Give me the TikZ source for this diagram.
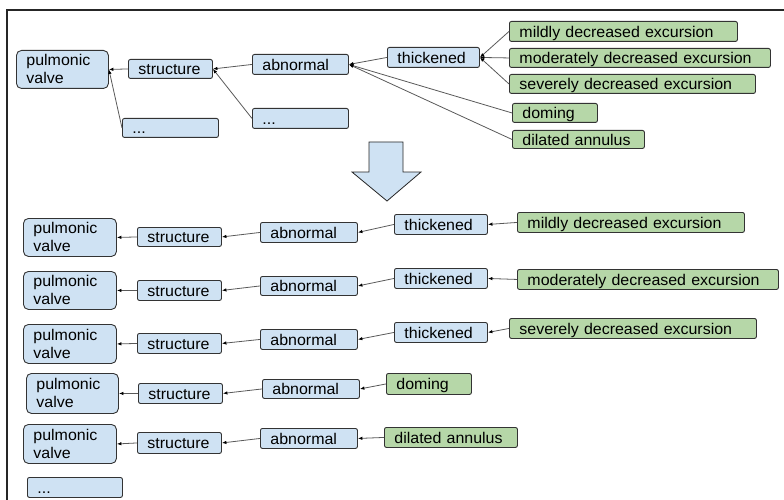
\documentclass[tikz,border=0pt]{standalone}
\usepackage{fontspec}
\setmainfont{Liberation Sans}[FakeStretch=1.03]
\usetikzlibrary{arrows.meta}

\definecolor{boxblue}{HTML}{CFE2F3}
\definecolor{boxgreen}{HTML}{B6D7A8}
\definecolor{edgegray}{HTML}{595959}

\tikzset{
  box/.style={anchor=north west, draw=black!80, line width=0.9pt, rounded corners=2pt,
    inner xsep=10pt, inner ysep=0pt, align=left, font=\fontsize{15.5}{18}\selectfont},
  bluebox/.style={box, fill=boxblue, text height=12pt, text depth=0pt},
  greenbox/.style={box, fill=boxgreen, text height=12pt, text depth=0pt},
  valvebox/.style={box, fill=boxblue, rounded corners=5pt},
  link/.style={draw=edgegray, line width=0.8pt, -{Latex[length=4.5pt,width=3.5pt,black]}}
}

\begin{document}
\begin{tikzpicture}[x=1pt,y=-1pt]
\useasboundingbox (0,0) rectangle (784,500);

% frame
\draw[line width=1.5pt, black!85] (7,500) -- (7,10) -- (784,10);

% tree before
\node[valvebox, text width=72pt, minimum height=38pt] (pv) at (16,50) {pulmonic\\valve};
\node[bluebox, text width=64pt, minimum height=19pt] (st) at (128,59) {structure};
\node[bluebox, text width=76pt, minimum height=20pt] (ab) at (252,54) {abnormal};
\node[bluebox, text width=76pt, minimum height=19pt] (dotsl) at (122,118) {...};
\node[bluebox, text width=76pt, minimum height=20pt] (dotsm) at (252,108) {...};
\node[bluebox, text width=72pt, minimum height=20pt] (th) at (387,47) {thickened};
\node[greenbox, text width=208pt, minimum height=20pt] (mild) at (509,21) {mildly decreased excursion};
\node[greenbox, text width=241pt, minimum height=19pt] (mod) at (509,48) {moderately decreased excursion};
\node[greenbox, text width=226pt, minimum height=19pt] (sev) at (509,74) {severely decreased excursion};
\node[greenbox, text width=65pt, minimum height=19pt] (dom) at (512,103) {doming};
\node[greenbox, text width=112pt, minimum height=18pt] (dil) at (512,130) {dilated annulus};

\draw[link] (st.west) -- (pv.east);
\draw[link] (dotsl.west) -- (pv.east);
\draw[link] (ab.west) -- (st.east);
\draw[link] (dotsm.west) -- (st.east);
\draw[link] (th.west) -- (ab.east);
\draw[link] (dom.west) -- (ab.east);
\draw[link] (dil.west) -- (ab.east);
\draw[link] (mild.west) -- (th.east);
\draw[link] (mod.west) -- (th.east);
\draw[link] (sev.west) -- (th.east);

% big arrow
\draw[fill=boxblue, draw=black!85, line width=0.8pt]
  (369,142) -- (403,142) -- (403,172) -- (421,172) -- (387,201) -- (352,172) -- (369,172) -- cycle;

% paths after
\node[valvebox, text width=73pt, minimum height=38pt] (pva) at (23,218) {pulmonic\\valve};
\node[bluebox, text width=64pt, minimum height=19pt] (sta) at (137,227) {structure};
\node[bluebox, text width=77pt, minimum height=20pt] (aba) at (260,222) {abnormal};
\node[bluebox, text width=73pt, minimum height=20pt] (tha) at (394,214) {thickened};
\node[greenbox, text width=207pt, minimum height=20pt] (milda) at (517,212) {mildly decreased excursion};

\node[valvebox, text width=73pt, minimum height=38pt] (pvb) at (23,271) {pulmonic\\valve};
\node[bluebox, text width=64pt, minimum height=20pt] (stb) at (137,280) {structure};
\node[bluebox, text width=77pt, minimum height=19pt] (abb) at (260,276) {abnormal};
\node[bluebox, text width=73pt, minimum height=20pt] (thb) at (394,268) {thickened};
\node[greenbox, text width=241pt, minimum height=20pt] (modb) at (517,269) {moderately decreased excursion};

\node[valvebox, text width=73pt, minimum height=39pt] (pvc) at (23,324) {pulmonic\\valve};
\node[bluebox, text width=64pt, minimum height=20pt] (stc) at (137,333) {structure};
\node[bluebox, text width=77pt, minimum height=20pt] (abc) at (260,329) {abnormal};
\node[bluebox, text width=73pt, minimum height=20pt] (thc) at (394,322) {thickened};
\node[greenbox, text width=227pt, minimum height=20pt] (sevc) at (509,318) {severely decreased excursion};

\node[valvebox, text width=72pt, minimum height=40pt] (pvd) at (26,373) {pulmonic\\valve};
\node[bluebox, text width=64pt, minimum height=20pt] (std) at (138,383) {structure};
\node[bluebox, text width=77pt, minimum height=19pt] (abd) at (262,379) {abnormal};
\node[greenbox, text width=65pt, minimum height=21pt] (domd) at (386,373) {doming};

\node[valvebox, text width=73pt, minimum height=39pt] (pve) at (23,424) {pulmonic\\valve};
\node[bluebox, text width=64pt, minimum height=21pt] (ste) at (137,432) {structure};
\node[bluebox, text width=77pt, minimum height=20pt] (abe) at (260,428) {abnormal};
\node[greenbox, text width=113pt, minimum height=20pt] (dile) at (384,427) {dilated annulus};

\node[bluebox, text width=75pt, minimum height=20pt] (dotsf) at (27,477) {...};

\draw[link] (sta.west) -- (pva.east);
\draw[link] (aba.west) -- (sta.east);
\draw[link] (tha.west) -- (aba.east);
\draw[link] (milda.west) -- (tha.east);

\draw[link] (stb.west) -- (pvb.east);
\draw[link] (abb.west) -- (stb.east);
\draw[link] (thb.west) -- (abb.east);
\draw[link] (modb.west) -- (thb.east);

\draw[link] (stc.west) -- (pvc.east);
\draw[link] (abc.west) -- (stc.east);
\draw[link] (thc.west) -- (abc.east);
\draw[link] (sevc.west) -- (thc.east);

\draw[link] (std.west) -- (pvd.east);
\draw[link] (abd.west) -- (std.east);
\draw[link] (domd.west) -- (abd.east);

\draw[link] (ste.west) -- (pve.east);
\draw[link] (abe.west) -- (ste.east);
\draw[link] (dile.west) -- (abe.east);
\end{tikzpicture}
\end{document}
